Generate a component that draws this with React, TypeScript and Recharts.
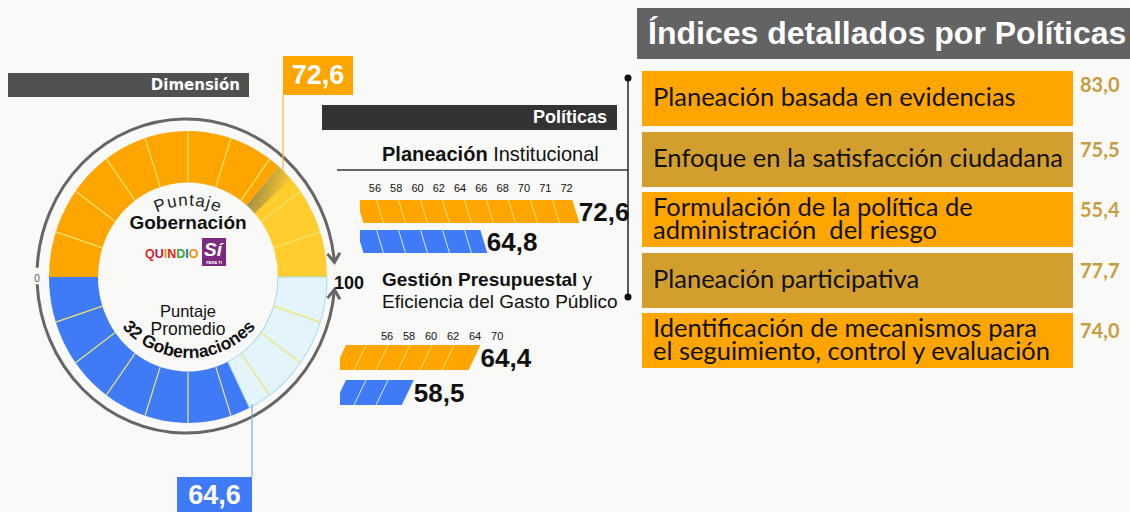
import React from "react";
import { PieChart, Pie, Cell, BarChart, Bar, XAxis, YAxis, LabelList } from "recharts";

// --- data ---
const SCORE_GOB = 72.6; // Puntaje Gobernación (dimensión)
const SCORE_AVG = 64.6; // Puntaje promedio 32 gobernaciones
const GAUGE_TICKS = [0, 10, 20, 30, 40, 50, 60, 70, 80, 90, 100];

const ROW_NAMES = ["Gobernación", "Promedio"];

const PI_TITLE_BOLD = "Planeación";
const PI_TITLE_REST = " Institucional";
const PI_VALUES = [72.6, 64.8];
const PI_TICKS = ["56", "58", "60", "62", "64", "66", "68", "70", "71", "72"];

const GP_VALUES = [64.4, 58.5];
const GP_TICKS = ["56", "58", "60", "62", "64", "70"];

const POLICY_NAMES = [
  "Planeación basada en evidencias",
  "Enfoque en la satisfacción ciudadana",
  "Formulación de la política de\nadministración  del riesgo",
  "Planeación participativa",
  "Identificación de mecanismos para\nel seguimiento, control y evaluación",
];
const POLICY_VALUES = [83.0, 75.5, 55.4, 77.7, 74.0];

const FONT = "'Liberation Sans', Arial, Helvetica, sans-serif";
const ORANGE = "#FFA500";
const BLUE = "#3F7BF7";
const RAD = Math.PI / 180;

const fmt = (v: number) => v.toFixed(1).replace(".", ",");

// gauge geometry (pie center in page coords)
const GX = 188;
const GY = 277;

function dividerLabel(skipAngle: number) {
  return (p: any) => {
    const { cx, cy, innerRadius, outerRadius, endAngle } = p;
    if (Math.abs(endAngle - skipAngle) < 0.01) return <g />;
    const c = Math.cos(-endAngle * RAD);
    const s = Math.sin(-endAngle * RAD);
    return (
      <line
        x1={cx + innerRadius * c}
        y1={cy + innerRadius * s}
        x2={cx + outerRadius * c}
        y2={cy + outerRadius * s}
        stroke="#EEE56A"
        strokeWidth={1.2}
      />
    );
  };
}

// soft dark shade at the end of the score sector
function shadeLabel(p: any) {
  if (p.name !== "Gobernación") return <g />;
  const { cx, cy, innerRadius, outerRadius, endAngle } = p;
  const a0 = endAngle;
  const a1 = endAngle - 7;
  const pt = (r: number, a: number) => `${cx + r * Math.cos(-a * RAD)},${cy + r * Math.sin(-a * RAD)}`;
  const d = `M ${pt(outerRadius, a0)} A ${outerRadius} ${outerRadius} 0 0 1 ${pt(outerRadius, a1)} L ${pt(innerRadius, a1)} A ${innerRadius} ${innerRadius} 0 0 0 ${pt(innerRadius, a0)} Z`;
  return <path d={d} fill="url(#gaugeShade)" />;
}

function Gauge() {
  const max = GAUGE_TICKS[GAUGE_TICKS.length - 1];
  const top = [
    { name: "Gobernación", value: SCORE_GOB },
    { name: "Resto", value: max - SCORE_GOB },
  ];
  const bottom = [
    { name: "Promedio", value: SCORE_AVG },
    { name: "Resto", value: max - SCORE_AVG },
  ];
  const steps = GAUGE_TICKS.slice(1).map((t, i) => ({ name: String(t), value: t - GAUGE_TICKS[i] }));
  const cy = 200;
  return (
    <div
      style={{
        position: "absolute",
        left: 0,
        top: GY - cy,
        transform: "scaleY(1.05)",
        transformOrigin: `${GX}px ${cy}px`,
      }}
    >
      <PieChart width={380} height={400} margin={{ top: 0, right: 0, bottom: 0, left: 0 }}>
        <Pie
          data={top}
          dataKey="value"
          cx={GX}
          cy={cy}
          innerRadius={90}
          outerRadius={139}
          startAngle={180}
          endAngle={0}
          isAnimationActive={false}
          stroke="none"
          label={shadeLabel}
          labelLine={false}
        >
          <Cell fill={ORANGE} stroke="none" />
          <Cell fill="#FFCE2E" stroke="none" />
        </Pie>
        <Pie
          data={bottom}
          dataKey="value"
          cx={GX}
          cy={cy}
          innerRadius={90}
          outerRadius={139}
          startAngle={180}
          endAngle={360}
          isAnimationActive={false}
          stroke="none"
        >
          <Cell fill={BLUE} stroke="none" />
          <Cell fill="#E3F4FC" stroke="#A9DAF0" strokeWidth={1} />
        </Pie>
        <Pie
          data={steps}
          dataKey="value"
          cx={GX}
          cy={cy}
          innerRadius={90}
          outerRadius={139}
          startAngle={180}
          endAngle={0}
          isAnimationActive={false}
          fill="transparent"
          stroke="none"
          label={dividerLabel(0)}
          labelLine={false}
        />
        <Pie
          data={steps}
          dataKey="value"
          cx={GX}
          cy={cy}
          innerRadius={90}
          outerRadius={139}
          startAngle={180}
          endAngle={360}
          isAnimationActive={false}
          fill="transparent"
          stroke="none"
          label={dividerLabel(360)}
          labelLine={false}
        />
      </PieChart>
    </div>
  );
}

function slantBar(slant: number, step: number, first: number) {
  return (p: any) => {
    const { x, y, width, height, fill } = p;
    const t = -slant / 2;
    const b = slant / 2;
    const lines = [];
    for (let d = x + first; d < x + width - 6; d += step) {
      lines.push(
        <line
          key={d}
          x1={d + t}
          y1={y}
          x2={d + b}
          y2={y + height}
          stroke={fill === ORANGE ? "#FFE07A" : "#D8E6FF"}
          strokeWidth={1}
        />
      );
    }
    return (
      <g>
        <polygon
          points={`${x + t},${y} ${x + width + t},${y} ${x + width + b},${y + height} ${x + b},${y + height}`}
          fill={fill}
        />
        {lines}
      </g>
    );
  };
}

interface BarsProps {
  values: number[];
  ticks: string[];
  left: number;
  top: number;
  barSize: number;
  band: number;
  axisH: number;
  tickMargin: number;
  valueDomain: [number, number];
  tickDomain: [number, number];
  slant: number;
  first: number;
  labelOffset: number;
}

function PolicyBars(props: BarsProps) {
  const { values, ticks, left, top, barSize, band, axisH, tickMargin, valueDomain, tickDomain, slant, first, labelOffset } =
    props;
  const data = values.map((v, i) => ({ name: ROW_NAMES[i], value: v }));
  return (
    <div style={{ position: "absolute", left, top }}>
      <BarChart
        layout="vertical"
        width={230 + 90}
        height={axisH + band * data.length}
        data={data}
        margin={{ top: 0, right: 90, bottom: 0, left: 0 }}
        barSize={barSize}
      >
        <XAxis xAxisId="v" type="number" domain={valueDomain} hide allowDataOverflow />
        <XAxis
          xAxisId="t"
          type="number"
          orientation="top"
          domain={tickDomain}
          ticks={ticks.map((_, i) => i)}
          tickFormatter={(i: number) => ticks[i]}
          interval={0}
          axisLine={false}
          tickLine={false}
          tickSize={0}
          tickMargin={tickMargin}
          height={axisH}
          allowDataOverflow
          tick={{ fontSize: 11, fill: "#111", fontFamily: FONT }}
        />
        <YAxis type="category" dataKey="name" hide />
        <Bar xAxisId="v" dataKey="value" isAnimationActive={false} shape={slantBar(slant, 22, first)}>
          {data.map((d, i) => (
            <Cell key={d.name} fill={i === 0 ? ORANGE : BLUE} />
          ))}
          <LabelList
            dataKey="value"
            position="right"
            offset={labelOffset}
            formatter={(v: any) => fmt(Number(v))}
            fill="#111"
            fontSize={26}
            fontWeight={700}
            fontFamily={FONT}
          />
        </Bar>
      </BarChart>
    </div>
  );
}

// ellipse used for the gray arrows around the gauge
const AX = 186;
const AY = 276;
const ARX = 149;
const ARY = 157;
const ept = (a: number) => [AX + ARX * Math.cos(a * RAD), AY - ARY * Math.sin(a * RAD)];

function arrowHead(a: number, dirSign: number) {
  const [tx, ty] = ept(a);
  let dx = ARX * Math.sin(a * RAD) * dirSign;
  let dy = ARY * Math.cos(a * RAD) * dirSign;
  const n = Math.hypot(dx, dy);
  dx /= n;
  dy /= n;
  const wing = (rot: number) => {
    const c = Math.cos(rot * RAD);
    const s = Math.sin(rot * RAD);
    const bx = -dx * c + dy * s;
    const by = -dx * s - dy * c;
    return `${tx + bx * 11},${ty + by * 11}`;
  };
  return <polyline points={`${wing(35)} ${tx},${ty} ${wing(-35)}`} fill="none" stroke="#666" strokeWidth={3} />;
}

function Overlay() {
  const [ux1, uy1] = ept(177);
  const [ux2, uy2] = ept(5);
  const [lx1, ly1] = ept(183);
  const [lx2, ly2] = ept(355);
  const topArc = `M ${GX - 62} ${GY - 36} A 72 72 0 0 1 ${GX + 62} ${GY - 36}`;
  const br = 88;
  const bx = br * Math.sin(72 * RAD);
  const by = 270 + br * Math.cos(72 * RAD);
  const botArc = `M ${GX + 1 - bx} ${by} A ${br} ${br} 0 0 0 ${GX + 1 + bx} ${by}`;
  return (
    <svg width={1130} height={512} style={{ position: "absolute", left: 0, top: 0, pointerEvents: "none" }}>
      <defs>
        <path id="arcTop" d={topArc} />
        <path id="arcBot" d={botArc} />
        <linearGradient id="gaugeShade" x1="0" y1="0" x2="1" y2="0.4">
          <stop offset="0" stopColor="#555" stopOpacity={0.75} />
          <stop offset="1" stopColor="#555" stopOpacity={0} />
        </linearGradient>
      </defs>
      <path d={`M ${ux1} ${uy1} A ${ARX} ${ARY} 0 0 1 ${ux2} ${uy2}`} fill="none" stroke="#666" strokeWidth={3} />
      <path d={`M ${lx1} ${ly1} A ${ARX} ${ARY} 0 0 0 ${lx2} ${ly2}`} fill="none" stroke="#666" strokeWidth={3} />
      {arrowHead(5, 1)}
      {arrowHead(355, -1)}
      <text x={37} y={282} fontSize={10} fill="#555" textAnchor="middle" fontFamily={FONT}>
        0
      </text>
      <text x={334} y={289} fontSize={18} fontWeight={700} fill="#111" fontFamily={FONT}>
        100
      </text>

      {/* callout lines */}
      <line x1={283} y1={95} x2={283} y2={171} stroke="#FFB347" strokeWidth={1.2} />
      <line x1={252} y1={404} x2={252} y2={477} stroke="#7FA6F5" strokeWidth={1.2} />

      {/* center texts */}
      <text fontSize={17} fill="#222" fontFamily={FONT} letterSpacing={1}>
        <textPath href="#arcTop" startOffset="50%" textAnchor="middle">
          Puntaje
        </textPath>
      </text>
      <text x={GX} y={229} fontSize={19} fontWeight={700} fill="#111" textAnchor="middle" fontFamily={FONT}>
        Gobernación
      </text>
      <text x={145} y={258} fontSize={12.5} fontWeight={900} fontFamily={FONT}>
        <tspan fill="#E52421">Q</tspan>
        <tspan fill="#A3195B">U</tspan>
        <tspan fill="#F39200">I</tspan>
        <tspan fill="#E52421">N</tspan>
        <tspan fill="#3AAA35">D</tspan>
        <tspan fill="#1D71B8">I</tspan>
        <tspan fill="#F39200">O</tspan>
      </text>
      <rect x={202} y={238} width={24} height={28} fill="#7B2A7F" />
      <text x={213} y={256} fontSize={19} fontWeight={900} fontStyle="italic" fill="#fff" textAnchor="middle" fontFamily={FONT}>
        Sí
      </text>
      <text x={214} y={264} fontSize={4} fontWeight={700} fill="#fff" textAnchor="middle" fontFamily={FONT}>
        PARA TI
      </text>
      <text x={GX} y={317} fontSize={16.5} fill="#111" textAnchor="middle" fontFamily={FONT}>
        Puntaje
      </text>
      <text x={GX} y={335} fontSize={17.5} fill="#111" textAnchor="middle" fontFamily={FONT}>
        Promedio
      </text>
      <text fontSize={17.5} fontWeight={700} fill="#111" fontFamily={FONT}>
        <textPath href="#arcBot" startOffset="50%" textAnchor="middle">
          32 Gobernaciones
        </textPath>
      </text>

      {/* bracket and separator */}
      <line x1={337} y1={170} x2={628} y2={170} stroke="#333" strokeWidth={1.5} />
      <line x1={628} y1={78} x2={628} y2={297} stroke="#222" strokeWidth={1.5} />
      <circle cx={628} cy={78} r={3.5} fill="#111" />
      <circle cx={628} cy={297} r={3.5} fill="#111" />
    </svg>
  );
}

export default function App() {
  return (
    <div
      style={{
        position: "relative",
        width: 1130,
        height: 512,
        overflow: "hidden",
        background: "#f9f9f8",
        fontFamily: FONT,
      }}
    >
      <style>{"body{margin:0}"}</style>

      {/* Dimensión header */}
      <div
        style={{
          position: "absolute",
          left: 8,
          top: 73,
          width: 241,
          height: 24,
          background: "#505050",
          color: "#fff",
          fontFamily: "'DejaVu Sans', Verdana, sans-serif",
          fontWeight: 700,
          fontSize: 15,
          lineHeight: "24px",
          textAlign: "right",
          paddingRight: 9,
          boxSizing: "border-box",
        }}
      >
        Dimensión
      </div>

      <Gauge />
      <Overlay />

      {/* score callouts */}
      <div
        style={{
          position: "absolute",
          left: 283,
          top: 56,
          width: 70,
          height: 39,
          background: ORANGE,
          color: "#fff",
          fontWeight: 700,
          fontSize: 27,
          lineHeight: "39px",
          textAlign: "center",
        }}
      >
        {fmt(SCORE_GOB)}
      </div>
      <div
        style={{
          position: "absolute",
          left: 177,
          top: 477,
          width: 75,
          height: 40,
          background: BLUE,
          color: "#fff",
          fontWeight: 700,
          fontSize: 27,
          lineHeight: "37px",
          textAlign: "center",
        }}
      >
        {fmt(SCORE_AVG)}
      </div>

      {/* Políticas header */}
      <div
        style={{
          position: "absolute",
          left: 322,
          top: 105,
          width: 295,
          height: 25,
          background: "#333",
          color: "#fff",
          fontWeight: 700,
          fontSize: 18,
          lineHeight: "25px",
          textAlign: "right",
          paddingRight: 10,
          boxSizing: "border-box",
        }}
      >
        Políticas
      </div>

      <div style={{ position: "absolute", left: 382, top: 144, fontSize: 20, lineHeight: "20px", color: "#111", whiteSpace: "nowrap" }}>
        <b>{PI_TITLE_BOLD}</b>
        {PI_TITLE_REST}
      </div>

      <PolicyBars
        values={PI_VALUES}
        ticks={PI_TICKS}
        left={360}
        top={176}
        barSize={23}
        band={30}
        axisH={20}
        tickMargin={4}
        valueDomain={[54.3, 73.8]}
        tickDomain={[-0.7, 10.1]}
        slant={7}
        first={20}
        labelOffset={3}
      />

      <div style={{ position: "absolute", left: 382, top: 269, fontSize: 19, lineHeight: "22px", color: "#111", whiteSpace: "nowrap" }}>
        <b>Gestión Presupuestal</b> y
        <br />
        Eficiencia del Gasto Público
      </div>

      <PolicyBars
        values={GP_VALUES}
        ticks={GP_TICKS}
        left={340}
        top={326}
        barSize={25}
        band={35}
        axisH={14}
        tickMargin={0}
        valueDomain={[52.5, 72.85]}
        tickDomain={[-2.14, 8.31]}
        slant={-12}
        first={20}
        labelOffset={6}
      />

      {/* right panel */}
      <div
        style={{
          position: "absolute",
          left: 637,
          top: 8,
          width: 500,
          height: 51,
          background: "#636363",
          color: "#fff",
          fontWeight: 700,
          fontSize: 32,
          lineHeight: "51px",
          paddingLeft: 11,
          boxSizing: "border-box",
          whiteSpace: "nowrap",
        }}
      >
        Índices detallados por Políticas
      </div>
      {POLICY_NAMES.map((name, i) => (
        <React.Fragment key={name}>
          <div
            style={{
              position: "absolute",
              left: 642,
              top: 71 + i * 60.5,
              width: 431,
              height: 55,
              background: i % 2 === 0 ? ORANGE : "#D29E2E",
              display: "flex",
              alignItems: "center",
              paddingLeft: 11,
              paddingBottom: 4,
              boxSizing: "border-box",
              fontFamily: "Lato, 'Open Sans', sans-serif",
              fontSize: 25.5,
              lineHeight: "23px",
              color: "#111",
              whiteSpace: "pre",
            }}
          >
            {name}
          </div>
          <div
            style={{
              position: "absolute",
              left: 1080,
              top: 72 + i * 60.5 + (i === 0 ? 0 : 4),
              fontFamily: "Lato, 'Open Sans', sans-serif",
              fontWeight: 700,
              fontSize: 20,
              color: "#C69E42",
            }}
          >
            {fmt(POLICY_VALUES[i])}
          </div>
        </React.Fragment>
      ))}
    </div>
  );
}
